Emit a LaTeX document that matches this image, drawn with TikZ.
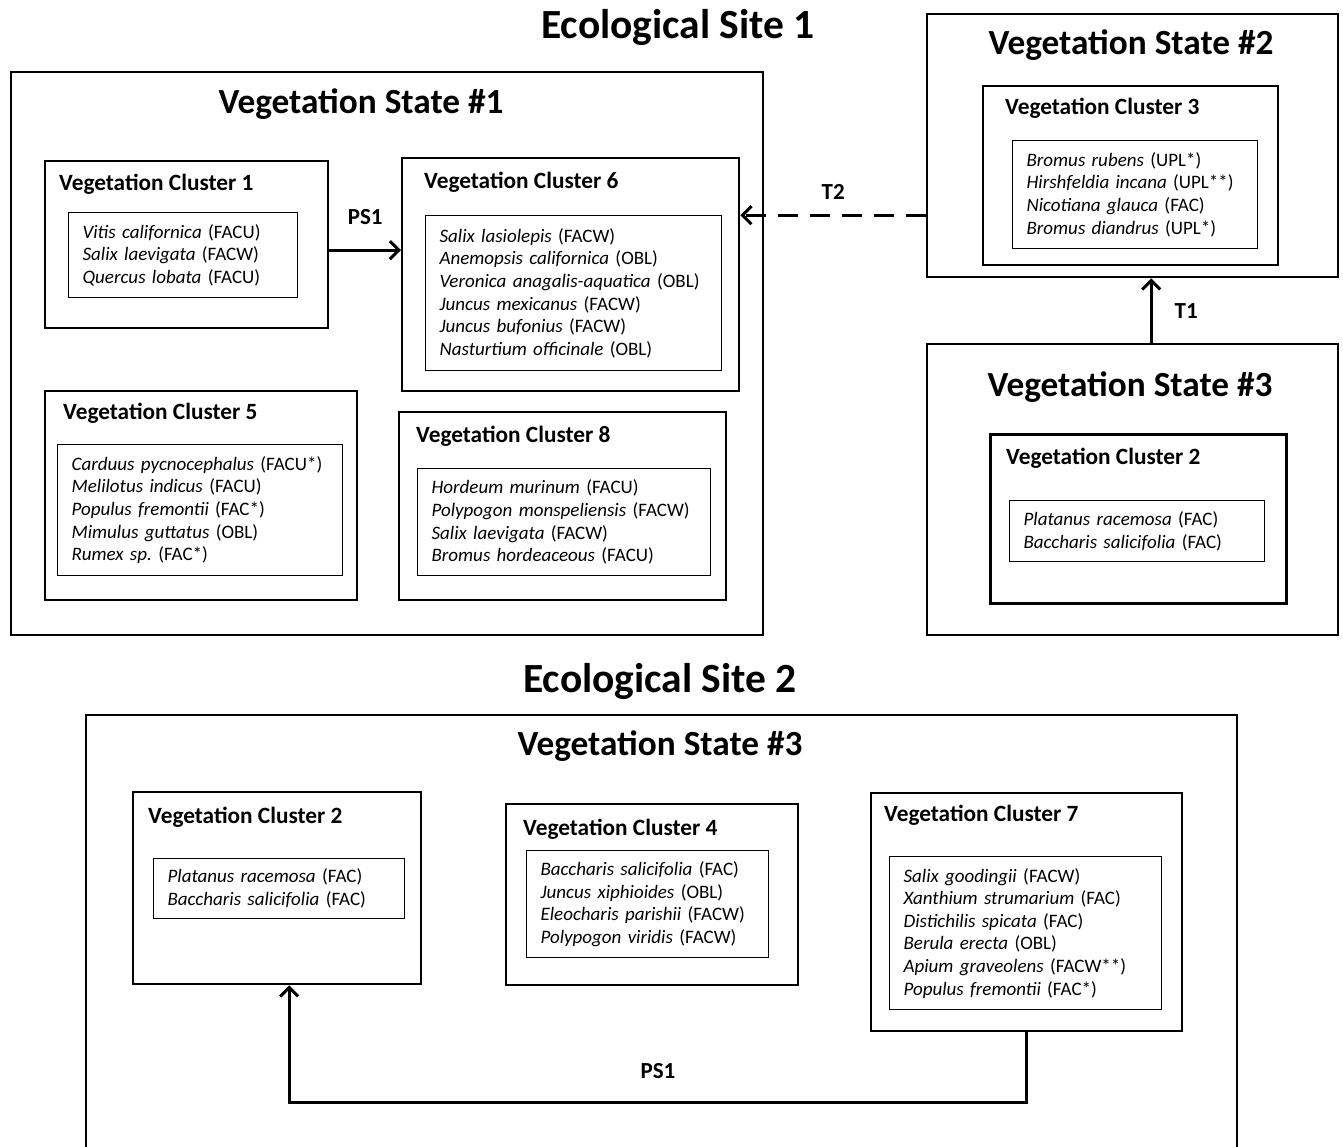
\documentclass[tikz,border=0pt]{standalone}
\usepackage{fontspec}
\setmainfont{Carlito}
\usetikzlibrary{arrows.meta,positioning}
\frenchspacing
\newcommand{\taxon}[2]{\textit{#1} (#2)}
\tikzset{
  statebox/.style={draw, line width=2.4pt, anchor=north west, inner sep=0pt},
  clusterbox/.style={draw, line width=2.4pt, anchor=north west, inner sep=0pt},
  listbox/.style={draw, line width=1.2pt, anchor=north west, align=left,
    inner xsep=14pt, inner ysep=0pt, font=\fontsize{19}{22.6}\selectfont},
  sitetitle/.style={font=\bfseries\fontsize{41.5}{48}\selectfont, inner sep=0pt},
  statetitle/.style={font=\bfseries\fontsize{35.3}{42}\selectfont, inner sep=0pt},
  clustertitle/.style={anchor=west, font=\bfseries\fontsize{23.3}{28}\selectfont, inner sep=0pt},
  flow/.style={-{Straight Barb[length=9pt,width=18pt]}, line width=3pt},
  trans/.style={flow, dash pattern=on 20pt off 12pt},
  tag/.style={font=\bfseries\fontsize{23}{27}\selectfont, inner sep=0pt},
}
\begin{document}
\begin{tikzpicture}[x=1pt, y=-1pt]
  \useasboundingbox (0,0) rectangle (1343,1147);
  \clip (0,0) rectangle (1343,1147);
  \fill[white] (0,0) rectangle (1343,1147);

  % Ecological Site 1
  \node[sitetitle] (site1) at (678,27) {Ecological Site 1};

  \node[statebox, minimum width=752pt, minimum height=563pt] (vs1) at (10,71) {};
  \node[statetitle] (vs1title) at (361,104) {Vegetation State \#1};

  \node[clusterbox, minimum width=283pt, minimum height=167pt] (vc1) at (44,160) {};
  \node[clustertitle] (vc1title) at (59,184) {Vegetation Cluster 1};
  \node[listbox, text width=201pt, minimum height=85pt] (vc1list) at (68,212)
    {\taxon{Vitis californica}{FACU}\\
     \taxon{Salix laevigata}{FACW}\\
     \taxon{Quercus lobata}{FACU}};

  \node[clusterbox, minimum width=337pt, minimum height=233pt] (vc6) at (401,157) {};
  \node[clustertitle] (vc6title) at (424,182) {Vegetation Cluster 6};
  \node[listbox, text width=268pt, minimum height=155pt] (vc6list) at (425,215)
    {\taxon{Salix lasiolepis}{FACW}\\
     \taxon{Anemopsis californica}{OBL}\\
     \taxon{Veronica anagalis-aquatica}{OBL}\\
     \taxon{Juncus mexicanus}{FACW}\\
     \taxon{Juncus bufonius}{FACW}\\
     \taxon{Nasturtium officinale}{OBL}};

  \node[clusterbox, minimum width=312pt, minimum height=209pt] (vc5) at (44,390) {};
  \node[clustertitle] (vc5title) at (63,413) {Vegetation Cluster 5};
  \node[listbox, text width=257pt, minimum height=131pt] (vc5list) at (57,444)
    {\taxon{Carduus pycnocephalus}{FACU*}\\
     \taxon{Melilotus indicus}{FACU}\\
     \taxon{Populus fremontii}{FAC*}\\
     \taxon{Mimulus guttatus}{OBL}\\
     \taxon{Rumex sp.}{FAC*}};

  \node[clusterbox, minimum width=327pt, minimum height=188pt] (vc8) at (398,411) {};
  \node[clustertitle] (vc8title) at (416,436) {Vegetation Cluster 8};
  \node[listbox, text width=265pt, minimum height=107pt] (vc8list) at (417,468)
    {\taxon{Hordeum murinum}{FACU}\\
     \taxon{Polypogon monspeliensis}{FACW}\\
     \taxon{Salix laevigata}{FACW}\\
     \taxon{Bromus hordeaceous}{FACU}};

  \node[statebox, minimum width=411pt, minimum height=263pt] (vs2) at (926,13) {};
  \node[statetitle] (vs2title) at (1131,45) {Vegetation State \#2};

  \node[clusterbox, minimum width=295pt, minimum height=179pt] (vc3) at (982,85) {};
  \node[clustertitle] (vc3title) at (1005,108) {Vegetation Cluster 3};
  \node[listbox, text width=217pt, minimum height=108pt] (vc3list) at (1012,140)
    {\taxon{Bromus rubens}{UPL*}\\
     \taxon{Hirshfeldia incana}{UPL**}\\
     \taxon{Nicotiana glauca}{FAC}\\
     \taxon{Bromus diandrus}{UPL*}};

  \node[statebox, minimum width=411pt, minimum height=291pt] (vs3a) at (926,343) {};
  \node[statetitle] (vs3atitle) at (1130,387) {Vegetation State \#3};

  \node[clusterbox, line width=3.4pt, minimum width=296pt, minimum height=169pt] (vc2a) at (989,433) {};
  \node[clustertitle] (vc2atitle) at (1006,458) {Vegetation Cluster 2};
  \node[listbox, text width=227pt, minimum height=61pt] (vc2alist) at (1009,500)
    {\taxon{Platanus racemosa}{FAC}\\
     \taxon{Baccharis salicifolia}{FAC}};

  \draw[flow] ([yshift=-5.5pt]vc1.east) -- ([yshift=-5.5pt]vc1.east -| vc6.west)
    node[tag, midway, above=24pt] {PS1};
  \draw[trans] ([yshift=-69.5pt]vs2.west) -- ([yshift=-69.5pt]vs2.west -| vc6.east)
    node[tag, midway, above=14pt] {T2};
  \draw[flow] ([xshift=18.5pt]vs3a.north) -- ([xshift=18.5pt]vs3a.north |- vs2.south)
    node[tag, midway, right=22pt] {T1};

  % Ecological Site 2
  \node[sitetitle] (site2) at (660,681) {Ecological Site 2};

  \node[statebox, minimum width=1151pt, minimum height=500pt] (vs3b) at (85,714) {};
  \node[statetitle] (vs3btitle) at (660,746) {Vegetation State \#3};

  \node[clusterbox, minimum width=288pt, minimum height=192pt] (vc2b) at (132,791) {};
  \node[clustertitle] (vc2btitle) at (148,817) {Vegetation Cluster 2};
  \node[listbox, text width=223pt, minimum height=60pt] (vc2blist) at (153,858)
    {\taxon{Platanus racemosa}{FAC}\\
     \taxon{Baccharis salicifolia}{FAC}};

  \node[clusterbox, minimum width=292pt, minimum height=181pt] (vc4) at (505,803) {};
  \node[clustertitle] (vc4title) at (523,829) {Vegetation Cluster 4};
  \node[listbox, text width=214pt, minimum height=107pt] (vc4list) at (526,850)
    {\taxon{Baccharis salicifolia}{FAC}\\
     \taxon{Juncus xiphioides}{OBL}\\
     \taxon{Eleocharis parishii}{FACW}\\
     \taxon{Polypogon viridis}{FACW}};

  \node[clusterbox, minimum width=311pt, minimum height=238pt] (vc7) at (870,792) {};
  \node[clustertitle] (vc7title) at (884,815) {Vegetation Cluster 7};
  \node[listbox, text width=244pt, minimum height=153pt] (vc7list) at (889,856)
    {\taxon{Salix goodingii}{FACW}\\
     \taxon{Xanthium strumarium}{FAC}\\
     \taxon{Distichilis spicata}{FAC}\\
     \taxon{Berula erecta}{OBL}\\
     \taxon{Apium graveolens}{FACW**}\\
     \taxon{Populus fremontii}{FAC*}};

  \draw[flow] (vc7.south) -- ++(0,70) -| ([xshift=12pt]vc2b.south)
    node[tag, pos=0.25, above=22pt] {PS1};
\end{tikzpicture}
\end{document}
